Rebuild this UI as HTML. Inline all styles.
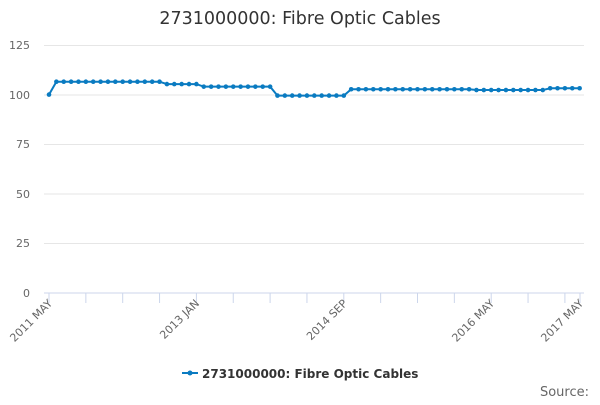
<!DOCTYPE html>
<html><head><meta charset="utf-8"><style>body{margin:0;background:#fff}</style></head><body>
<svg width="600" height="400" xmlns="http://www.w3.org/2000/svg" font-family="'DejaVu Sans','Liberation Sans',sans-serif">
<text x="300" y="24" text-anchor="middle" font-size="17.5" fill="#333">2731000000: Fibre Optic Cables</text>
<g stroke="#e6e6e6" stroke-width="1">
<line x1="44" x2="584" y1="45.5" y2="45.5"/><line x1="44" x2="584" y1="95" y2="95"/><line x1="44" x2="584" y1="144.5" y2="144.5"/><line x1="44" x2="584" y1="194" y2="194"/><line x1="44" x2="584" y1="243.5" y2="243.5"/>
</g>
<line x1="44" x2="584" y1="293" y2="293" stroke="#ccd6eb"/>
<g font-size="11" fill="#666" text-anchor="end">
<text x="30" y="49">125</text><text x="30" y="99">100</text><text x="30" y="148">75</text><text x="30" y="198">50</text><text x="30" y="247">25</text><text x="30" y="297">0</text>
</g>
<g id="ticks" stroke="#ccd6eb"></g>
<g font-size="11" fill="#666" text-anchor="end">
<text transform="translate(53,304) rotate(-45)">2011 MAY</text>
<text transform="translate(200,304) rotate(-45)">2013 JAN</text>
<text transform="translate(348,304) rotate(-45)">2014 SEP</text>
<text transform="translate(495,304) rotate(-45)">2016 MAY</text>
<text transform="translate(584,304) rotate(-45)">2017 MAY</text>
</g>
<g id="series"></g>
<line x1="182" x2="198" y1="373" y2="373" stroke="#0a7bc1" stroke-width="2"/><circle cx="190" cy="373" r="2.5" fill="#0a7bc1"/>
<text x="202" y="378" font-size="12" font-weight="bold" fill="#333">2731000000: Fibre Optic Cables</text>
<text x="589" y="396" text-anchor="end" font-size="13" fill="#666">Source:</text>
<script>
var ns="http://www.w3.org/2000/svg",t=document.getElementById("ticks");
for(var i=0;i<=72;i+=5){var x=49+i*7.37;var l=document.createElementNS(ns,"line");l.setAttribute("x1",x);l.setAttribute("x2",x);l.setAttribute("y1",293);l.setAttribute("y2",303);t.appendChild(l);}
var l2=document.createElementNS(ns,"line");l2.setAttribute("x1",580);l2.setAttribute("x2",580);l2.setAttribute("y1",293);l2.setAttribute("y2",303);t.appendChild(l2);
var v=[];for(i=0;i<=72;i++){var y=100;if(i==0)y=100;else if(i<=15)y=106.5;else if(i<=20)y=105.3;else if(i<=30)y=104;else if(i<=40)y=99.5;else if(i<=57)y=102.7;else if(i<=67)y=102.3;else y=103.2;v.push(y);}
var s=document.getElementById("series"),d="";
v.forEach(function(y,i){var X=49+i*7.37,Y=293-y*1.984;d+=(i?"L":"M")+X+","+Y;var c=document.createElementNS(ns,"circle");c.setAttribute("cx",X);c.setAttribute("cy",Y);c.setAttribute("r",2.3);c.setAttribute("fill","#0a7bc1");s.appendChild(c);});
var p=document.createElementNS(ns,"path");p.setAttribute("d",d);p.setAttribute("stroke","#0a7bc1");p.setAttribute("stroke-width",2);p.setAttribute("fill","none");s.insertBefore(p,s.firstChild);
</script>
</svg>
</body></html>
